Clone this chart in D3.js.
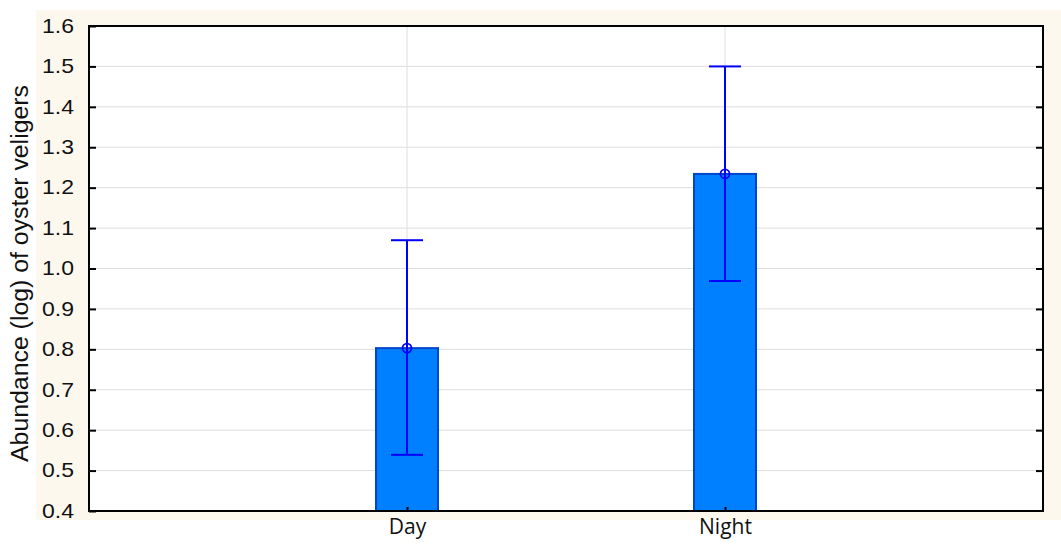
<!DOCTYPE html>
<html>
<head>
<meta charset="utf-8">
<script src="https://cdn.jsdelivr.net/npm/d3@7"></script>
<style>
  html, body { margin: 0; padding: 0; background: #ffffff; }
  svg { display: block; font-family: "Liberation Sans", Arial, sans-serif; }
</style>
</head>
<body>
<svg id="chart" width="1061" height="545"></svg>
<script>
// Mean abundance (log) of oyster veligers by period, with error limits
const categories = ["Day", "Night"];
const means = [0.803, 1.234];
const lower = [0.539, 0.969];
const upper = [1.070, 1.500];
const yTicks = [0.4, 0.5, 0.6, 0.7, 0.8, 0.9, 1.0, 1.1, 1.2, 1.3, 1.4, 1.5, 1.6];

const svg = d3.select("#chart");
const m = { left: 89, right: 1043, top: 26, bottom: 511 };

// cream panel behind the plot
svg.append("rect").attr("x", 36).attr("y", 10)
  .attr("width", 1061 - 36).attr("height", 520 - 10)
  .attr("fill", "#fdf8ee");

svg.append("rect").attr("x", m.left).attr("y", m.top)
  .attr("width", m.right - m.left).attr("height", m.bottom - m.top)
  .attr("fill", "#ffffff");

const y = d3.scaleLinear().domain([0.4, 1.6]).range([m.bottom, m.top]);
const x = d3.scalePoint().domain(["", ...categories, " "]).range([m.left, m.right]);

// gridlines
svg.append("g").selectAll("line").data(yTicks.slice(1, -1)).join("line")
  .attr("x1", m.left).attr("x2", m.right)
  .attr("y1", d => y(d)).attr("y2", d => y(d))
  .attr("stroke", "#dedede").attr("stroke-width", 1);
svg.append("g").selectAll("line").data(categories).join("line")
  .attr("x1", d => x(d)).attr("x2", d => x(d))
  .attr("y1", m.top).attr("y2", m.bottom)
  .attr("stroke", "#dedede").attr("stroke-width", 1);

// bars
const barW = 62;
svg.append("g").selectAll("rect").data(categories).join("rect")
  .attr("x", d => x(d) - barW / 2)
  .attr("y", (d, i) => y(means[i]))
  .attr("width", barW)
  .attr("height", (d, i) => y(0.4) - y(means[i]))
  .attr("fill", "#0080ff").attr("stroke", "#0046c8").attr("stroke-width", 2);

// error bars
const eb = svg.append("g").attr("stroke", "#0000ff").attr("stroke-width", 2).attr("fill", "none");
categories.forEach((c, i) => {
  const cx = x(c);
  eb.append("line").attr("x1", cx).attr("x2", cx).attr("y1", y(upper[i])).attr("y2", y(lower[i]));
  eb.append("line").attr("x1", cx - 16).attr("x2", cx + 16).attr("y1", y(upper[i])).attr("y2", y(upper[i]));
  eb.append("line").attr("x1", cx - 16).attr("x2", cx + 16).attr("y1", y(lower[i])).attr("y2", y(lower[i]));
  eb.append("circle").attr("cx", cx).attr("cy", y(means[i])).attr("r", 4.5).attr("stroke-width", 1.8);
});

// axes
const yAxisL = d3.axisLeft(y).tickValues(yTicks).tickFormat(d3.format(".1f")).tickSizeInner(-7).tickSizeOuter(0).tickPadding(15);
const gL = svg.append("g").attr("transform", `translate(${m.left},0)`).call(yAxisL);
gL.select(".domain").remove();
gL.selectAll(".tick line").attr("stroke", "#000").attr("stroke-width", 2);
gL.selectAll("text").attr("font-size", 21).attr("fill", "#111").attr("dy", "0.3em")
  .attr("textLength", 32).attr("lengthAdjust", "spacingAndGlyphs");

const yAxisR = d3.axisRight(y).tickValues(yTicks.slice(1, -1)).tickSizeInner(-7).tickSizeOuter(0).tickFormat("");
const gR = svg.append("g").attr("transform", `translate(${m.right},0)`).call(yAxisR);
gR.select(".domain").remove();
gR.selectAll(".tick line").attr("stroke", "#000").attr("stroke-width", 2);

const xAxis = d3.axisBottom(x).tickValues(categories).tickSizeInner(-4).tickSizeOuter(0).tickPadding(8);
const gX = svg.append("g").attr("transform", `translate(0,${m.bottom})`).call(xAxis);
gX.select(".domain").remove();
gX.selectAll(".tick line").attr("stroke", "#000").attr("stroke-width", 2);
gX.selectAll("text").attr("font-size", 21).attr("fill", "#111").attr("font-family", "Open Sans, sans-serif");

// frame
svg.append("rect").attr("x", m.left).attr("y", m.top)
  .attr("width", m.right - m.left).attr("height", m.bottom - m.top)
  .attr("fill", "none").attr("stroke", "#000").attr("stroke-width", 2);

// y axis title
svg.append("text")
  .attr("transform", `translate(28,${(m.top + m.bottom) / 2 + 5}) rotate(-90)`)
  .attr("text-anchor", "middle")
  .attr("font-size", 23).attr("fill", "#111")
  .attr("textLength", 377).attr("lengthAdjust", "spacingAndGlyphs")
  .text("Abundance (log) of oyster veligers");
</script>
</body>
</html>
